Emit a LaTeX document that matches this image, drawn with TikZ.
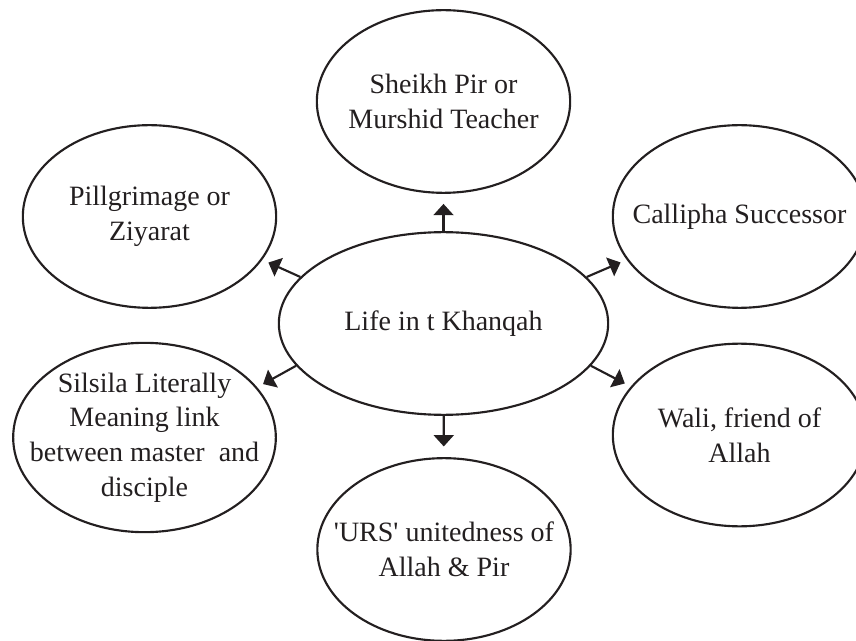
\documentclass[tikz,border=0pt]{standalone}
\usepackage{fontspec}
\setmainfont{Liberation Serif}
\usetikzlibrary{shapes.geometric,arrows.meta}
\definecolor{ink}{RGB}{35,31,32}

\begin{document}
\begin{tikzpicture}[x=0.75pt,y=0.75pt,yscale=-1,xscale=1,
    bubble/.style={draw=ink,ellipse,line width=1.6pt,minimum width=190pt,minimum height=137pt,inner sep=0pt},
    txt/.style={text=ink,align=center,font=\fontsize{21}{26}\selectfont},
    link/.style={draw=ink,line width=1.6pt,-{Triangle[length=8.5pt,width=15pt]}}]
                  \useasboundingbox (0,0) rectangle (856,641);
                  \node[bubble,minimum width=247pt] (life) at (443.5,323.5) {};
                  \node[bubble] (sheikh) at (443.5,101.5) {};
                  \node[bubble] (pil) at (149.5,216.5) {};
                  \node[bubble] (cal) at (739.5,216.5) {};
                  \node[bubble,minimum width=197pt,minimum height=142pt] (sil) at (144.5,437.5) {};
                  \node[bubble] (wali) at (739.5,435) {};
                  \node[bubble] (urs) at (444,549.5) {};

                  \node[txt] (life-t) at (life) {Life in t Khanqah};
                  \node[txt] (sheikh-t) at (sheikh) {Sheikh Pir or\\Murshid Teacher};
                  \node[txt] (pil-t) at (pil) {Pillgrimage or\\Ziyarat};
                  \node[txt] (cal-t) at (cal) {Callipha Successor};
                  \node[txt] (sil-t) at (sil) {Silsila Literally\\Meaning link\\between master\ \ and\\disciple};
                  \node[txt] (wali-t) at (wali) {Wali, friend of\\Allah};
                  \node[txt] (urs-t) at (urs) {\textquotesingle URS\textquotesingle{} unitedness of\\Allah \& Pir};

                  \draw[link,shorten >=7.5pt] (life) -- (sheikh);
                  \draw[link,shorten >=8pt] (life) -- (urs);
                  \draw[link,shorten >=5pt] (life.162) -- (pil.-21);
                  \draw[link,shorten >=5pt] (life.18) -- (cal.201);
                  \draw[link,shorten >=5pt] (life.196) -- (sil.24);
                  \draw[link,shorten >=5pt] (life.-16) -- (wali.156);
              \end{tikzpicture}
\end{document}
